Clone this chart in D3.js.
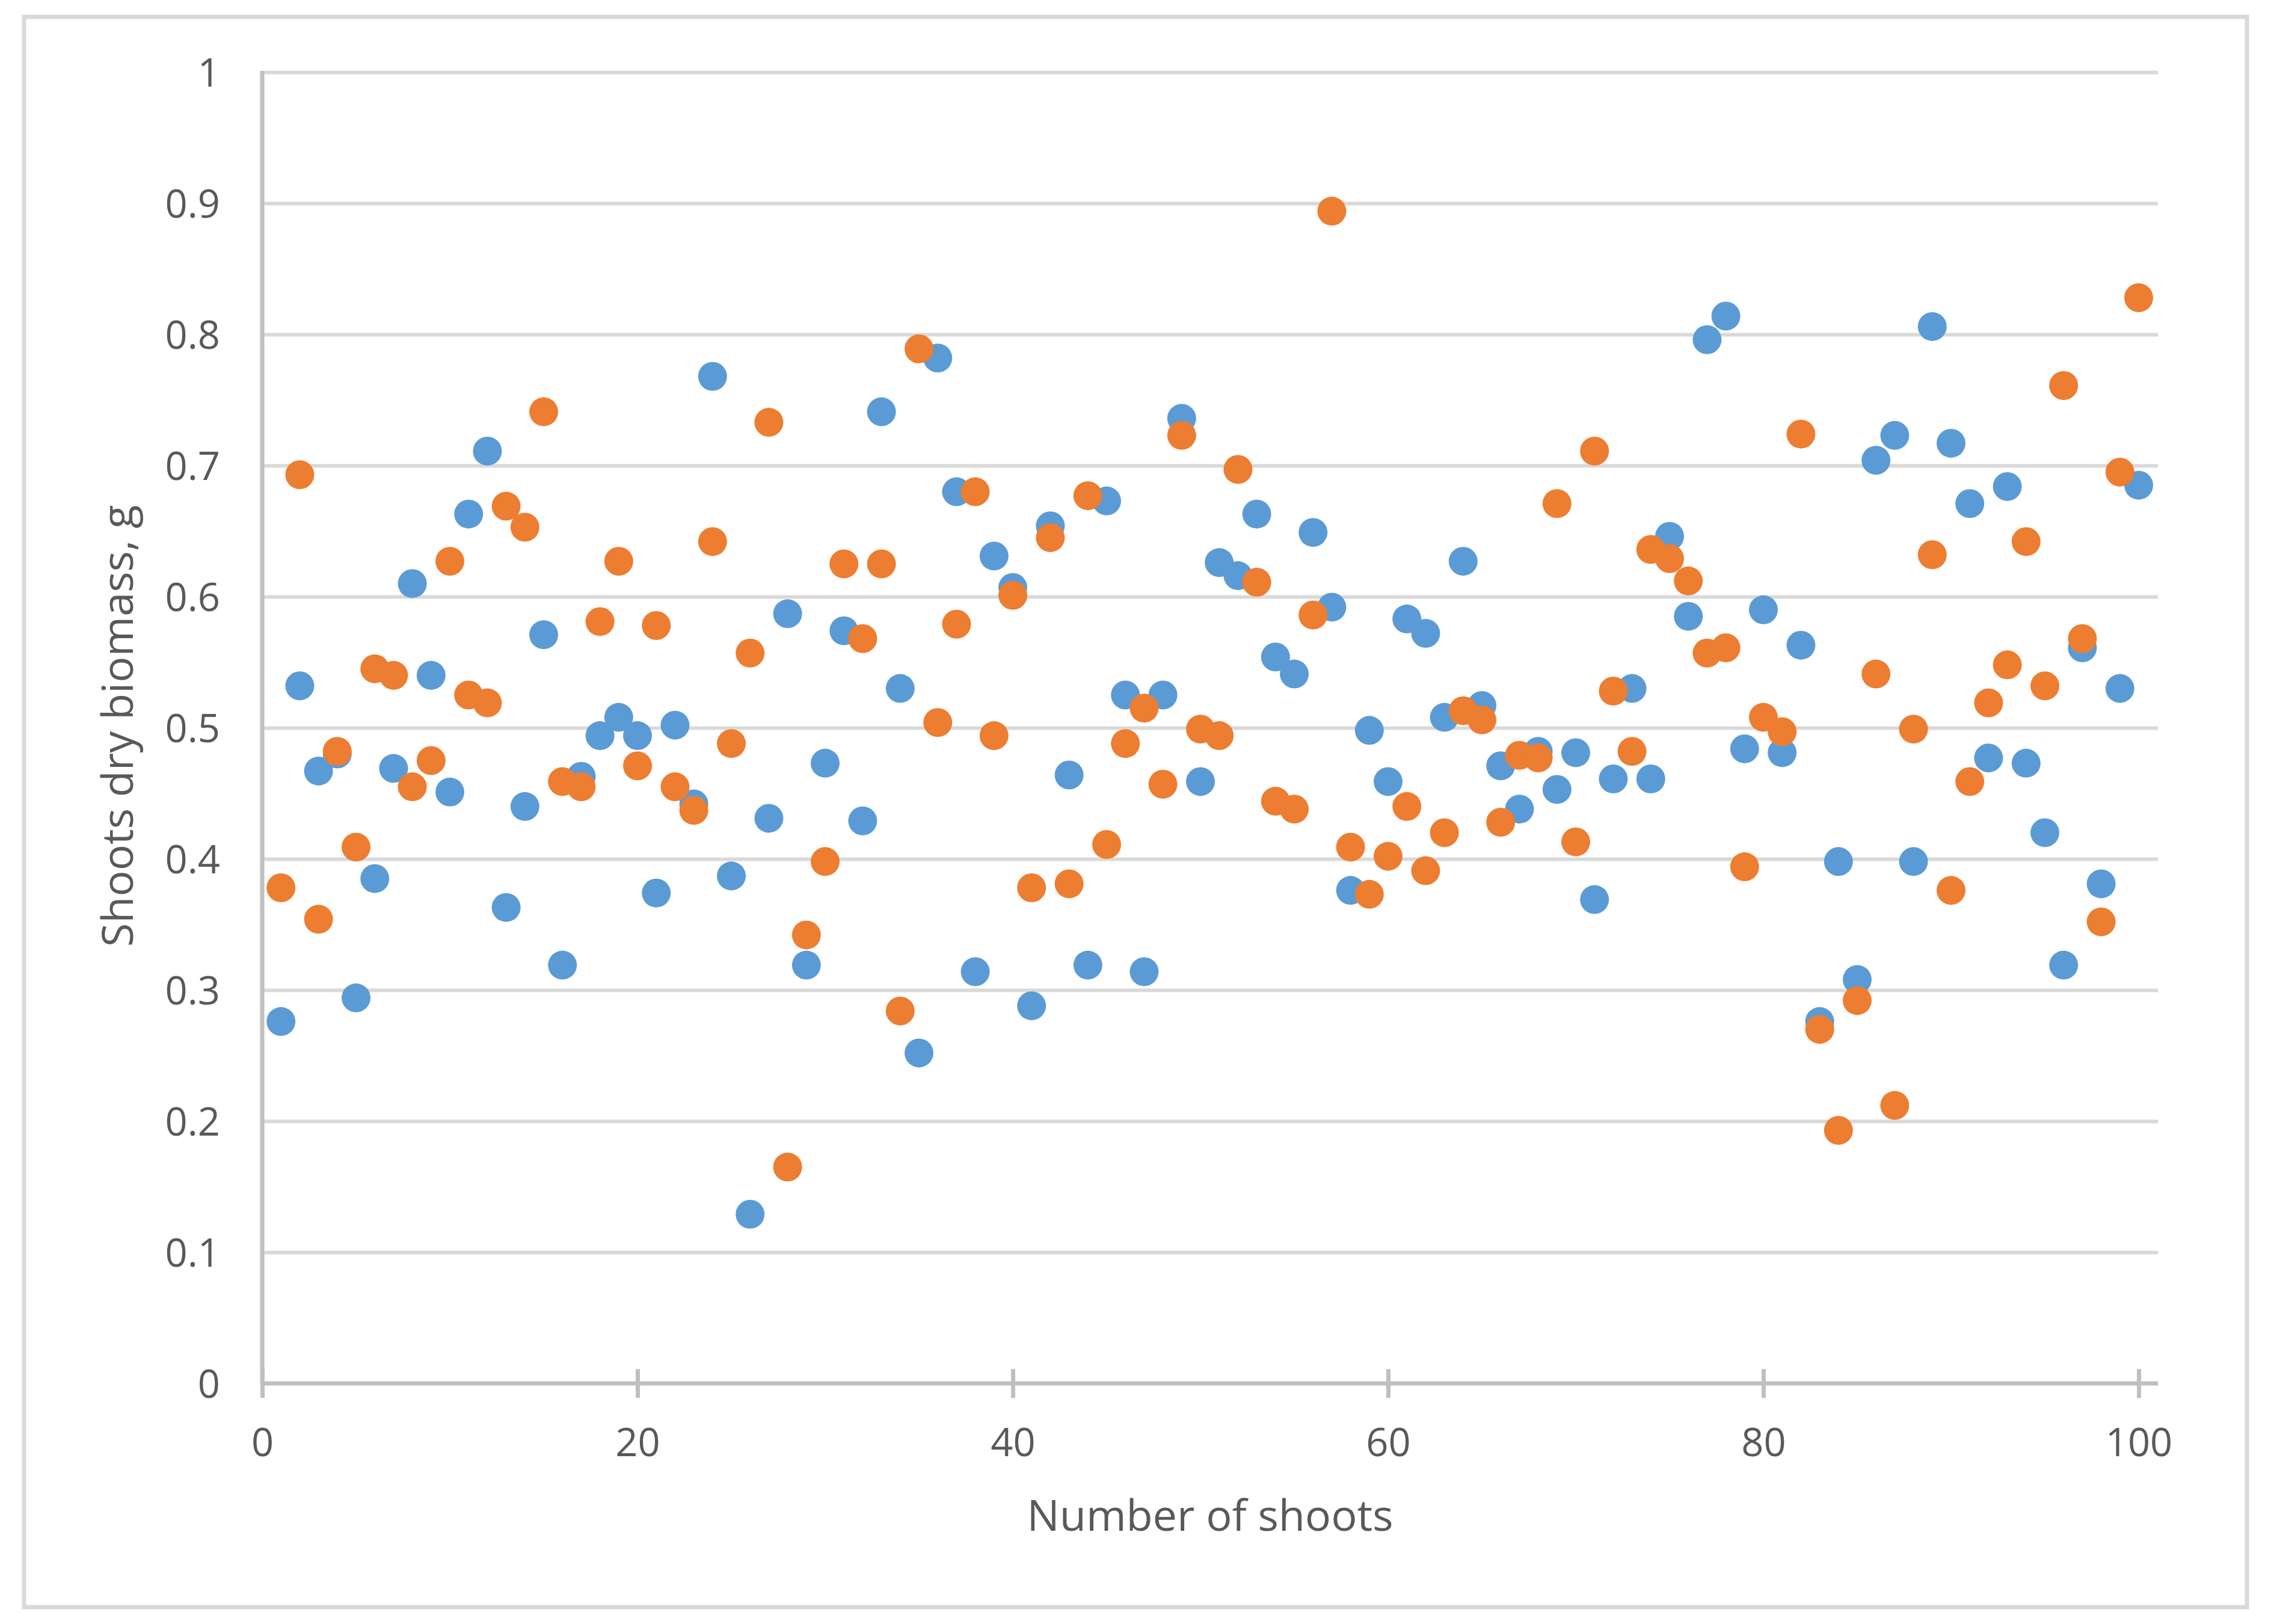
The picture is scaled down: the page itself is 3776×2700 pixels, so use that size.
<!DOCTYPE html>
<html>
<head>
<meta charset="utf-8">
<script src="https://cdn.jsdelivr.net/npm/d3@7"></script>
<style>
  html, body { margin: 0; padding: 0; background: #ffffff; }
  svg { display: block; font-family: "Open Sans", "Noto Sans", sans-serif; }
</style>
</head>
<body>
<svg id="chart" width="3776" height="2700"></svg>
<script>
// ---------------- data ----------------
const shootNumbers = [
  1, 2, 3, 4, 5, 6, 7, 8, 9, 10, 11, 12, 13, 14, 15, 16, 17, 18, 19, 20,
  21, 22, 23, 24, 25, 26, 27, 28, 29, 30, 31, 32, 33, 34, 35, 36, 37, 38, 39, 40,
  41, 42, 43, 44, 45, 46, 47, 48, 49, 50, 51, 52, 53, 54, 55, 56, 57, 58, 59, 60,
  61, 62, 63, 64, 65, 66, 67, 68, 69, 70, 71, 72, 73, 74, 75, 76, 77, 78, 79, 80,
  81, 82, 83, 84, 85, 86, 87, 88, 89, 90, 91, 92, 93, 94, 95, 96, 97, 98, 99, 100
];

const series1Values = [
  0.276, 0.532, 0.467, 0.480, 0.294, 0.385, 0.469, 0.610, 0.540, 0.451,
  0.663, 0.711, 0.363, 0.440, 0.571, 0.319, 0.463, 0.494, 0.508, 0.494,
  0.374, 0.502, 0.442, 0.768, 0.387, 0.129, 0.431, 0.587, 0.319, 0.473,
  0.574, 0.429, 0.741, 0.530, 0.252, 0.782, 0.680, 0.314, 0.631, 0.607,
  0.288, 0.654, 0.464, 0.319, 0.673, 0.525, 0.314, 0.525, 0.736, 0.459,
  0.626, 0.616, 0.663, 0.554, 0.541, 0.649, 0.592, 0.376, 0.498, 0.459,
  0.583, 0.572, 0.508, 0.627, 0.517, 0.471, 0.438, 0.482, 0.453, 0.481,
  0.369, 0.461, 0.530, 0.461, 0.646, 0.585, 0.796, 0.814, 0.484, 0.590,
  0.481, 0.563, 0.276, 0.398, 0.308, 0.704, 0.723, 0.398, 0.806, 0.717,
  0.671, 0.477, 0.684, 0.473, 0.420, 0.319, 0.561, 0.381, 0.530, 0.685
];

const series2Values = [
  0.378, 0.693, 0.354, 0.482, 0.409, 0.545, 0.540, 0.455, 0.475, 0.627,
  0.525, 0.519, 0.669, 0.653, 0.741, 0.459, 0.455, 0.581, 0.627, 0.471,
  0.578, 0.455, 0.437, 0.642, 0.488, 0.557, 0.733, 0.165, 0.342, 0.398,
  0.625, 0.568, 0.625, 0.284, 0.789, 0.504, 0.579, 0.680, 0.494, 0.601,
  0.378, 0.645, 0.381, 0.677, 0.411, 0.488, 0.515, 0.457, 0.723, 0.499,
  0.494, 0.697, 0.611, 0.444, 0.438, 0.586, 0.894, 0.409, 0.373, 0.402,
  0.440, 0.391, 0.420, 0.513, 0.506, 0.428, 0.479, 0.477, 0.671, 0.413,
  0.711, 0.528, 0.482, 0.636, 0.629, 0.612, 0.557, 0.561, 0.394, 0.508,
  0.497, 0.724, 0.270, 0.193, 0.292, 0.541, 0.212, 0.499, 0.632, 0.376,
  0.459, 0.519, 0.548, 0.642, 0.532, 0.761, 0.568, 0.352, 0.695, 0.828
];

const xTickValues = [0, 20, 40, 60, 80, 100];
const xTickLabels = ["0", "20", "40", "60", "80", "100"];
const yTickValues = [0, 0.1, 0.2, 0.3, 0.4, 0.5, 0.6, 0.7, 0.8, 0.9, 1];
const yTickLabels = ["0", "0.1", "0.2", "0.3", "0.4", "0.5", "0.6", "0.7", "0.8", "0.9", "1"];
const gridValues = [0.1, 0.2, 0.3, 0.4, 0.5, 0.6, 0.7, 0.8, 0.9, 1];

const xAxisTitle = "Number of shoots";
const yAxisTitle = "Shoots dry biomass, g";

const seriesList = [
  { name: "Series 1", values: series1Values, color: "#5B9BD5" },
  { name: "Series 2", values: series2Values, color: "#ED7D31" }
];

// ---------------- layout ----------------
const plotLeft = 436, plotRight = 3556, plotTop = 120, plotBottom = 2300;
const gridRight = 3588;
const textColor = "#595959";
const tickFont = 65;
const titleFont = 72;

const svg = d3.select("#chart");

// outer chart border
svg.append("rect")
  .attr("x", 40).attr("y", 28)
  .attr("width", 3736 - 40).attr("height", 2672 - 28)
  .attr("fill", "#ffffff")
  .attr("stroke", "#D9D9D9")
  .attr("stroke-width", 7);

const x = d3.scaleLinear().domain([0, 100]).range([plotLeft, plotRight]);
const y = d3.scaleLinear().domain([0, 1]).range([plotBottom, plotTop]);

// gridlines
const grid = svg.append("g")
  .attr("transform", `translate(${plotLeft},0)`)
  .call(d3.axisLeft(y).tickValues(gridValues).tickSize(-(gridRight - plotLeft)).tickFormat(""));
grid.select(".domain").remove();
grid.selectAll(".tick line").attr("stroke", "#D9D9D9").attr("stroke-width", 6);

// y axis labels
const yAxis = svg.append("g")
  .attr("transform", `translate(${plotLeft},0)`)
  .call(d3.axisLeft(y).tickValues(yTickValues).tickSize(0)
    .tickFormat((d, i) => yTickLabels[i]));
yAxis.select(".domain").remove();
yAxis.selectAll(".tick text")
  .attr("x", -70)
  .attr("dy", "0.36em")
  .attr("fill", textColor)
  .style("font-size", tickFont + "px")
  .style("font-family", "'Open Sans', sans-serif");

// y axis line
svg.append("line")
  .attr("x1", plotLeft).attr("x2", plotLeft)
  .attr("y1", plotTop - 2).attr("y2", plotBottom)
  .attr("stroke", "#BFBFBF").attr("stroke-width", 7);

// x axis
const xAxis = svg.append("g")
  .attr("transform", `translate(0,${plotBottom})`)
  .call(d3.axisBottom(x).tickValues(xTickValues).tickSize(24)
    .tickFormat((d, i) => xTickLabels[i]));
xAxis.select(".domain").remove();
xAxis.selectAll(".tick line")
  .attr("y1", -24).attr("y2", 24)
  .attr("stroke", "#BFBFBF").attr("stroke-width", 7);
xAxis.selectAll(".tick text")
  .attr("y", 121).attr("dy", 0)
  .attr("fill", textColor)
  .style("font-size", tickFont + "px")
  .style("font-family", "'Open Sans', sans-serif");
xAxis.append("line")
  .attr("x1", plotLeft - 3).attr("x2", gridRight)
  .attr("y1", 0).attr("y2", 0)
  .attr("stroke", "#BFBFBF").attr("stroke-width", 7);

// points: series 1 first, series 2 on top
seriesList.forEach(s => {
  svg.append("g")
    .attr("class", "series")
    .selectAll("circle")
    .data(s.values.map((v, i) => ({ x: shootNumbers[i], y: v })))
    .join("circle")
    .attr("cx", d => x(d.x))
    .attr("cy", d => y(d.y))
    .attr("r", 24)
    .attr("fill", s.color);
});

// axis titles
svg.append("text")
  .attr("x", (plotLeft + gridRight) / 2)
  .attr("y", 2545)
  .attr("text-anchor", "middle")
  .attr("fill", textColor)
  .style("font-size", titleFont + "px")
  .text(xAxisTitle);

svg.append("text")
  .attr("transform", `translate(221,${(plotTop + plotBottom) / 2 - 3}) rotate(-90)`)
  .attr("text-anchor", "middle")
  .attr("fill", textColor)
  .style("font-size", titleFont + "px")
  .text(yAxisTitle);
</script>
</body>
</html>
